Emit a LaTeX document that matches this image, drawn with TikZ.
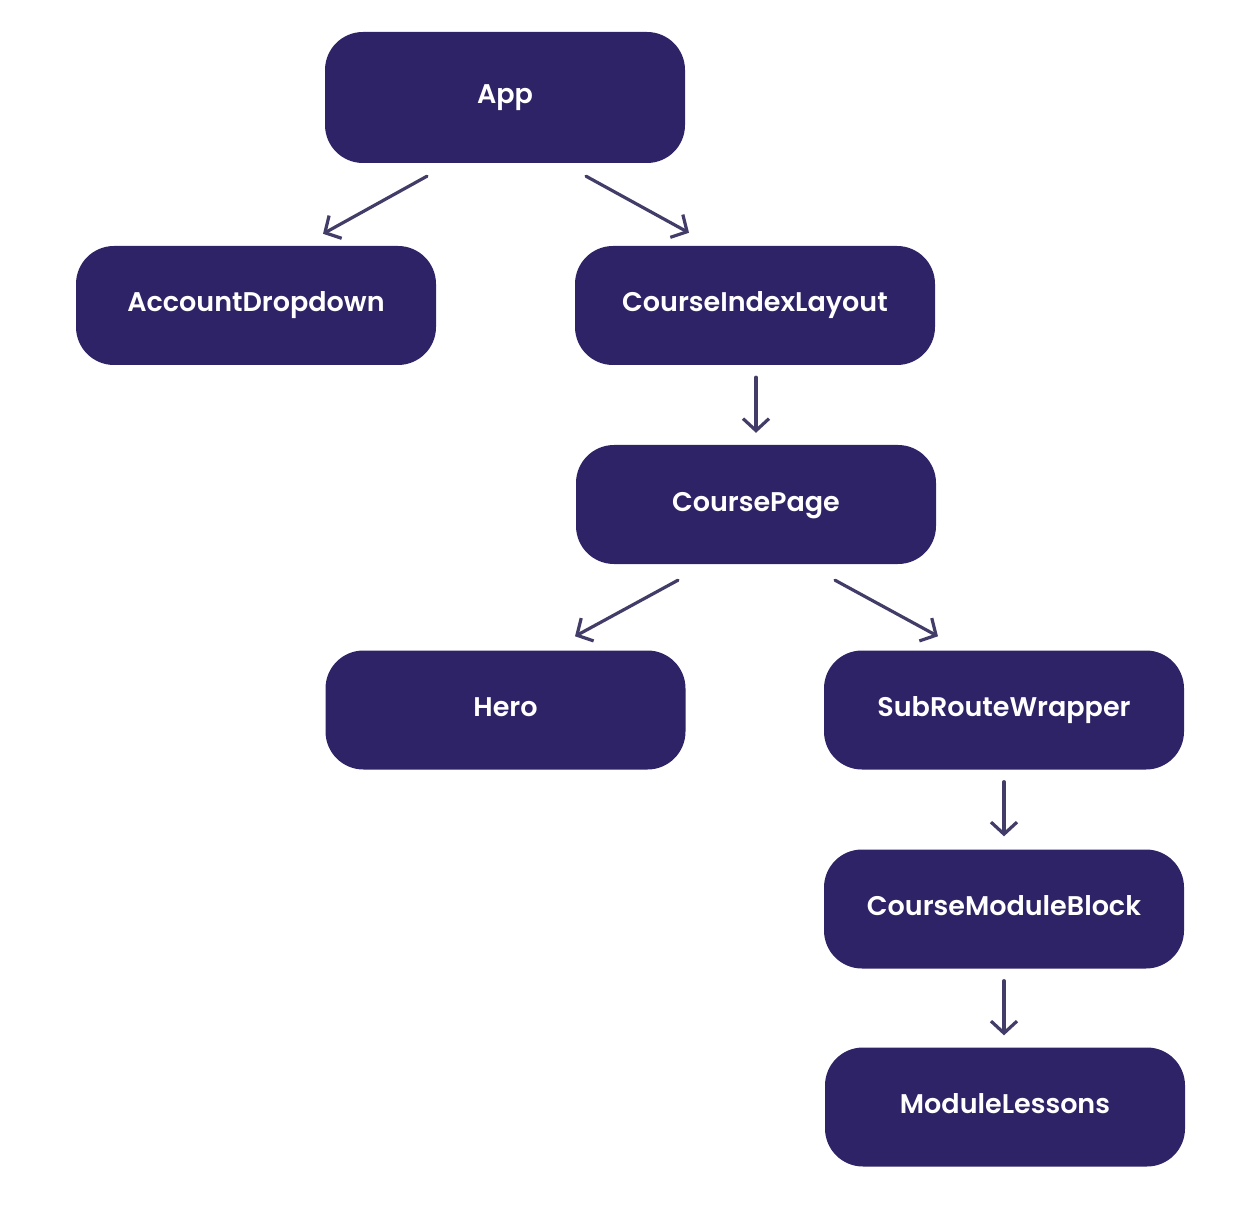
\documentclass[tikz,border=0pt]{standalone}
\usepackage{fontspec}
\setmainfont{Poppins}[UprightFont=* SemiBold]
\usetikzlibrary{arrows.meta}
\definecolor{boxcol}{HTML}{2E2366}
\definecolor{arrcol}{HTML}{423D68}

\begin{document}
\begin{tikzpicture}[x=1pt,y=-1pt,
        box/.style={fill=boxcol, text=white, rounded corners=38pt, minimum width=360pt, minimum height=119pt, text height=20pt, text depth=7pt, font=\fontsize{27}{32}\selectfont},
        arr/.style={draw=arrcol, line width=3.2pt, line cap=round, -{Straight Barb[length=12pt,width=26pt]}}]
        \useasboundingbox (0,0) rectangle (1256,1214);
        \node[box, minimum height=131pt] (app) at (505,97.5) {App};
        \node[box] (account) at (256,305.5) {AccountDropdown};
        \node[box] (layout) at (755,305.5) {CourseIndexLayout};
        \node[box] (page) at (756,504.5) {CoursePage};
        \node[box] (hero) at (505.5,710) {Hero};
        \node[box] (wrapper) at (1004,710) {SubRouteWrapper};
        \node[box] (block) at (1004,909) {CourseModuleBlock};
        \node[box] (lessons) at (1005,1107) {ModuleLessons};
        \draw[arr] ([xshift=-78pt,yshift=-13pt]app.south) -- ([xshift=67pt,yshift=12pt]account.north);
        \draw[arr] ([xshift=81pt,yshift=-13pt]app.south) -- ([xshift=-66pt,yshift=13pt]layout.north);
        \draw[arr] ([xshift=1pt,yshift=-12pt]layout.south) -- ([yshift=12pt]page.north);
        \draw[arr] ([xshift=-78pt,yshift=-16pt]page.south) -- ([xshift=69.5pt,yshift=14pt]hero.north);
        \draw[arr] ([xshift=79pt,yshift=-16pt]page.south) -- ([xshift=-66pt,yshift=14pt]wrapper.north);
        \draw[arr] ([yshift=-12pt]wrapper.south) -- ([yshift=13pt]block.north);
        \draw[arr] ([yshift=-12pt]block.south) -- ([xshift=-1pt,yshift=12pt]lessons.north);
    \end{tikzpicture}
\end{document}
